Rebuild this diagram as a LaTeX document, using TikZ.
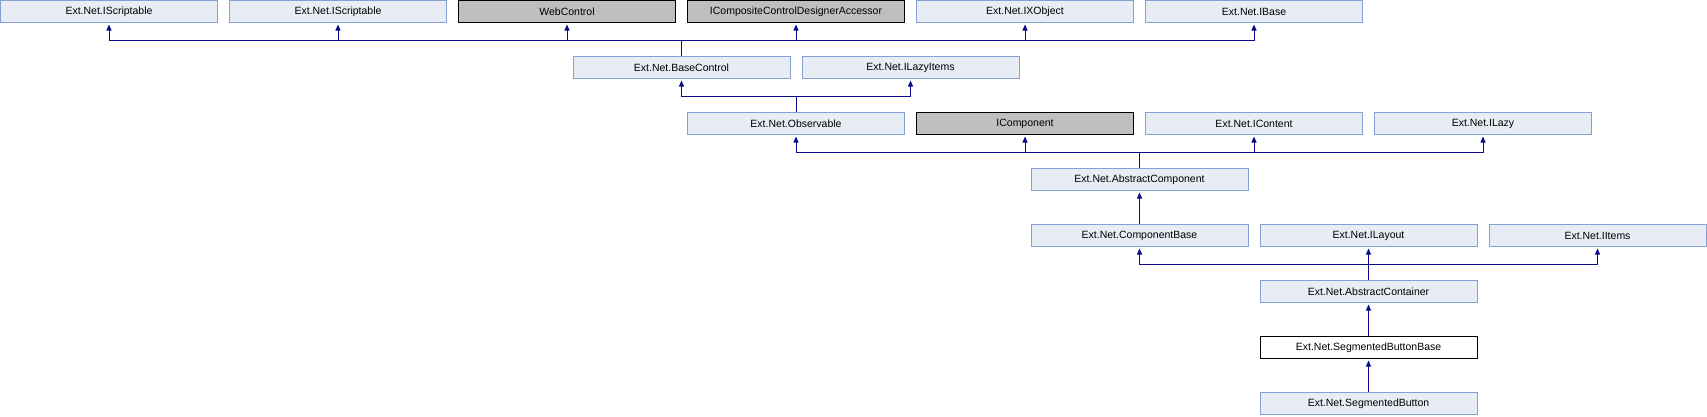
\documentclass[tikz,border=0pt]{standalone}
\usepackage{fontspec}
\setmainfont{Liberation Sans}
\usetikzlibrary{arrows.meta}
\definecolor{boxfill}{HTML}{E8ECF5}
\definecolor{boxline}{HTML}{84A0D4}
\definecolor{grayfill}{HTML}{BFBFBF}
\definecolor{conncol}{HTML}{0C0C8A}
\tikzset{
  cls/.style={draw=boxline, fill=boxfill, line width=1pt, minimum width=217pt, minimum height=22pt,
    inner sep=0pt, font=\fontsize{10.5}{12}\selectfont, text=black},
  ext/.style={cls, draw=black, fill=grayfill},
  cur/.style={cls, draw=black, fill=white},
  conn/.style={draw=conncol, line width=1pt, -{Triangle[length=6pt,width=5pt]}, shorten >=1.5pt},
}
\begin{document}
\begin{tikzpicture}[x=1pt,y=1pt]
\useasboundingbox (0,0) rectangle (1707,-416);
% row 0
\node[cls] (is1) at (109,-11.5) {Ext.Net.IScriptable};
\node[cls] (is2) at (338,-11.5) {Ext.Net.IScriptable};
\node[ext] (wc)  at (567,-11.5) {WebControl};
\node[ext] (icc) at (796,-11.5) {ICompositeControlDesignerAccessor};
\node[cls] (ixo) at (1025,-11.5) {Ext.Net.IXObject};
\node[cls] (ib)  at (1254,-11.5) {Ext.Net.IBase};
% row 1
\node[cls] (bc)  at (681.5,-67.5) {Ext.Net.BaseControl};
\node[cls] (ili) at (910.5,-67.5) {Ext.Net.ILazyItems};
% row 2
\node[cls] (obs) at (796,-123.5) {Ext.Net.Observable};
\node[ext] (ic)  at (1025,-123.5) {IComponent};
\node[cls] (icn) at (1254,-123.5) {Ext.Net.IContent};
\node[cls] (ilz) at (1483,-123.5) {Ext.Net.ILazy};
% row 3
\node[cls] (ac)  at (1139.5,-179.5) {Ext.Net.AbstractComponent};
% row 4
\node[cls] (cb)  at (1139.5,-235.5) {Ext.Net.ComponentBase};
\node[cls] (ily) at (1368.5,-235.5) {Ext.Net.ILayout};
\node[cls] (iit) at (1597.5,-235.5) {Ext.Net.IItems};
% row 5-7
\node[cls] (acn) at (1368.5,-291.5) {Ext.Net.AbstractContainer};
\node[cur] (sbb) at (1368.5,-347.5) {Ext.Net.SegmentedButtonBase};
\node[cls] (sb)  at (1368.5,-403.5) {Ext.Net.SegmentedButton};
% connectors
\foreach \p in {is1,is2,wc,icc,ixo,ib}
  \draw[conn] (bc.north) -- ++(0,15.5) -| (\p.south);
\foreach \p in {bc,ili}
  \draw[conn] (obs.north) -- ++(0,15.5) -| (\p.south);
\foreach \p in {obs,ic,icn,ilz}
  \draw[conn] (ac.north) -- ++(0,15.5) -| (\p.south);
\draw[conn] (cb.north) -- (ac.south);
\foreach \p in {cb,ily,iit}
  \draw[conn] (acn.north) -- ++(0,15.5) -| (\p.south);
\draw[conn] (sbb.north) -- (acn.south);
\draw[conn] (sb.north) -- (sbb.south);
\end{tikzpicture}
\end{document}
